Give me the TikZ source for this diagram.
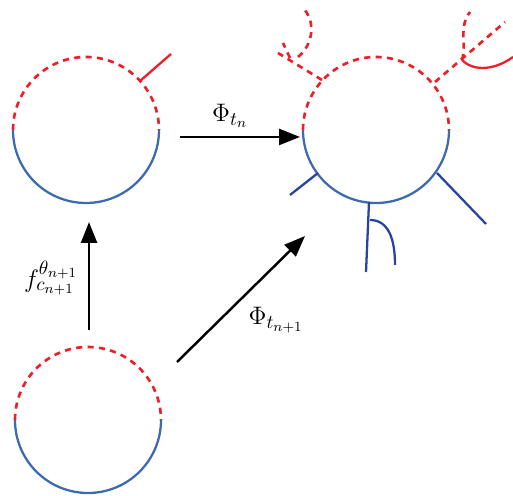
\documentclass[tikz,border=0pt]{standalone}
\usepackage{amssymb}
\usepackage{amsfonts}
\usetikzlibrary{arrows.meta}
\DeclareMathSizes{14}{14}{11}{8.5}
\definecolor{loopblue}{RGB}{62,107,175}
\definecolor{legblue}{RGB}{38,68,160}
\definecolor{loopred}{RGB}{237,30,40}
\begin{document}
\begin{tikzpicture}[x=0.02cm,y=0.02cm,
   lower/.style={draw=loopblue,line width=1.3pt},
   upper/.style={draw=loopred,line width=1.5pt,dash pattern=on 3.5pt off 3pt},
   redleg/.style={draw=loopred,line width=1.3pt},
   blueleg/.style={draw=legblue,line width=1.3pt},
   map/.style={line width=1.4pt,-{Triangle[length=0.42cm,width=0.32cm]}},
   lab/.style={font=\fontsize{14}{17}\selectfont}
    ]
  \useasboundingbox (0,0) rectangle (513,496);

  % -- the three loops
  \coordinate (c1) at (86,366);
  \coordinate (c2) at (376,366);
  \coordinate (c3) at (88,76);
  \foreach \c in {c1,c2,c3}{
    \draw[upper] ([xshift=-73*0.02cm]\c) arc (180:0:73*0.02cm);
    \draw[lower] ([xshift=-73*0.02cm]\c) arc (180:360:73*0.02cm);
  }

  % -- legs on the first loop
  \draw[redleg] (140,415) -- (171,442);

  % -- legs on the second loop
  \draw[upper] (322,416) -- (278,443);
  \draw[upper] (298,439) .. controls (314,452) and (316,476) .. (302,489);
  \draw[upper] (290,438) -- (283,453);
  \draw[upper] (435,414) -- (505,474);
  \draw[upper] (462,436) .. controls (467,452) and (458,468) .. (470,484);
  \draw[redleg] (462,436) .. controls (474,424) and (495,426) .. (513,439);
  \draw[blueleg] (318,323) -- (290,301);
  \draw[blueleg] (369,294) -- (366,224);
  \draw[blueleg] (370,276) .. controls (388,276) and (395,258) .. (395,231);
  \draw[blueleg] (437,323) -- (486,272);

  % -- maps
  \coordinate (h0) at (180,359);
  \coordinate (h1) at (300,359);
  \coordinate (v0) at (89,166);
  \coordinate (v1) at (89,274);
  \coordinate (d0) at (177,134);
  \coordinate (d1) at (305,260);
  \draw[map] (h0) -- (h1);
  \draw[map] (v0) -- (v1);
  \draw[map] (d0) -- (d1);
  \node[lab] (lh) at (230,380) {$\Phi_{t_n}$};
  \node[lab] (lv) at (51,218) {$f^{\theta_{n+1}}_{c_{n+1}}$};
  \node[lab] (ld) at (276,176) {$\Phi_{t_{n+1}}$};

\end{tikzpicture}
\end{document}
